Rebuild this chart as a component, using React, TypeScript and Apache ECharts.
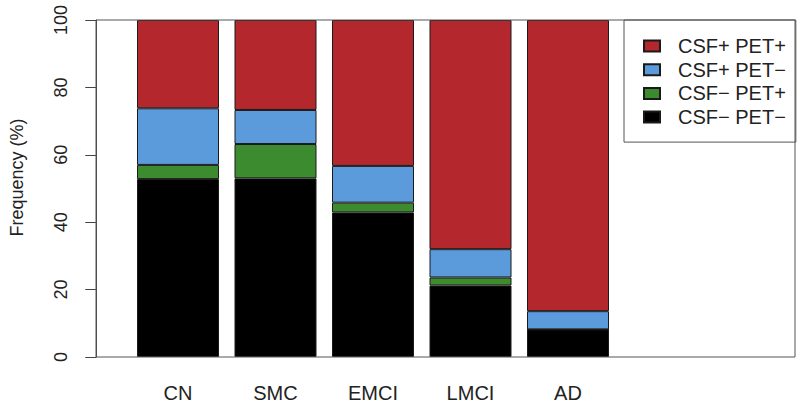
import React, { useEffect, useRef } from "react";
import * as echarts from "echarts";

const categories = ["CN", "SMC", "EMCI", "LMCI", "AD"];
const csfNegPetNeg = [52.8, 53.0, 42.9, 21.2, 8.2];
const csfNegPetPos = [4.2, 10.2, 2.9, 2.4, 0];
const csfPosPetNeg = [16.8, 10.1, 10.9, 8.4, 5.4];
const csfPosPetPos = [26.2, 26.7, 43.3, 68.0, 86.4];
const legendNames = ["CSF+ PET+", "CSF+ PET\u2212", "CSF\u2212 PET+", "CSF\u2212 PET\u2212"];
const yTicks = { min: 0, max: 100, interval: 20 };

const FONT = "'Liberation Sans', Arial, Helvetica, sans-serif";

export default function App() {
  const ref = useRef<HTMLDivElement>(null);
  useEffect(() => {
    if (!ref.current) return;
    const chart = echarts.init(ref.current, null, { renderer: "svg" });
    const mk = (name: string, data: number[], color: string) => ({
      name,
      type: "bar",
      stack: "total",
      data,
      barWidth: 82,
      itemStyle: { color, borderColor: "#1a1a1a", borderWidth: 1 },
    });
    chart.setOption({
      animation: false,
      backgroundColor: "#ffffff",
      textStyle: { fontFamily: FONT },
      grid: { left: 129.25, top: 20, width: 487.5, height: 337 },
      xAxis: {
        type: "category",
        data: categories,
        axisLine: { show: false },
        axisTick: { show: false },
        axisLabel: { fontSize: 20, color: "#222", margin: 26, fontFamily: FONT },
      },
      yAxis: {
        type: "value",
        min: yTicks.min,
        max: yTicks.max,
        interval: yTicks.interval,
        offset: 33,
        name: "Frequency (%)",
        nameLocation: "middle",
        nameGap: 70,
        nameTextStyle: { fontSize: 18, color: "#222", fontFamily: FONT, padding: [0, 0, 0, 22] },
        axisLine: { show: true, lineStyle: { color: "#444", width: 1 } },
        axisTick: { show: true, length: 11, lineStyle: { color: "#444" } },
        axisLabel: { rotate: 90, fontSize: 18, color: "#222", margin: 26, fontFamily: FONT },
        splitLine: { show: false },
      },
      legend: {
        data: legendNames,
        orient: "vertical",
        left: 624,
        top: 20,
        padding: [16, 10, 15, 19],
        itemGap: 3.7,
        itemWidth: 16,
        itemHeight: 11,
        borderColor: "#555",
        borderWidth: 1,
        icon: "rect",
        textStyle: { fontSize: 20, color: "#222", fontFamily: FONT, lineHeight: 20, padding: [0, 0, 0, 13] },
      },
      graphic: [
        {
          type: "rect",
          z: 100,
          silent: true,
          shape: { x: 96, y: 20, width: 699, height: 337 },
          style: { fill: "none", stroke: "#555", lineWidth: 1 },
        },
      ],
      series: [
        mk(legendNames[3], csfNegPetNeg, "#000000"),
        mk(legendNames[2], csfNegPetPos, "#3D8B2F"),
        mk(legendNames[1], csfPosPetNeg, "#5B9BDC"),
        mk(legendNames[0], csfPosPetPos, "#B3272D"),
      ],
    });
    return () => chart.dispose();
  }, []);
  return <div ref={ref} style={{ position: "fixed", left: 0, top: 0, width: 800, height: 406 }} />;
}
